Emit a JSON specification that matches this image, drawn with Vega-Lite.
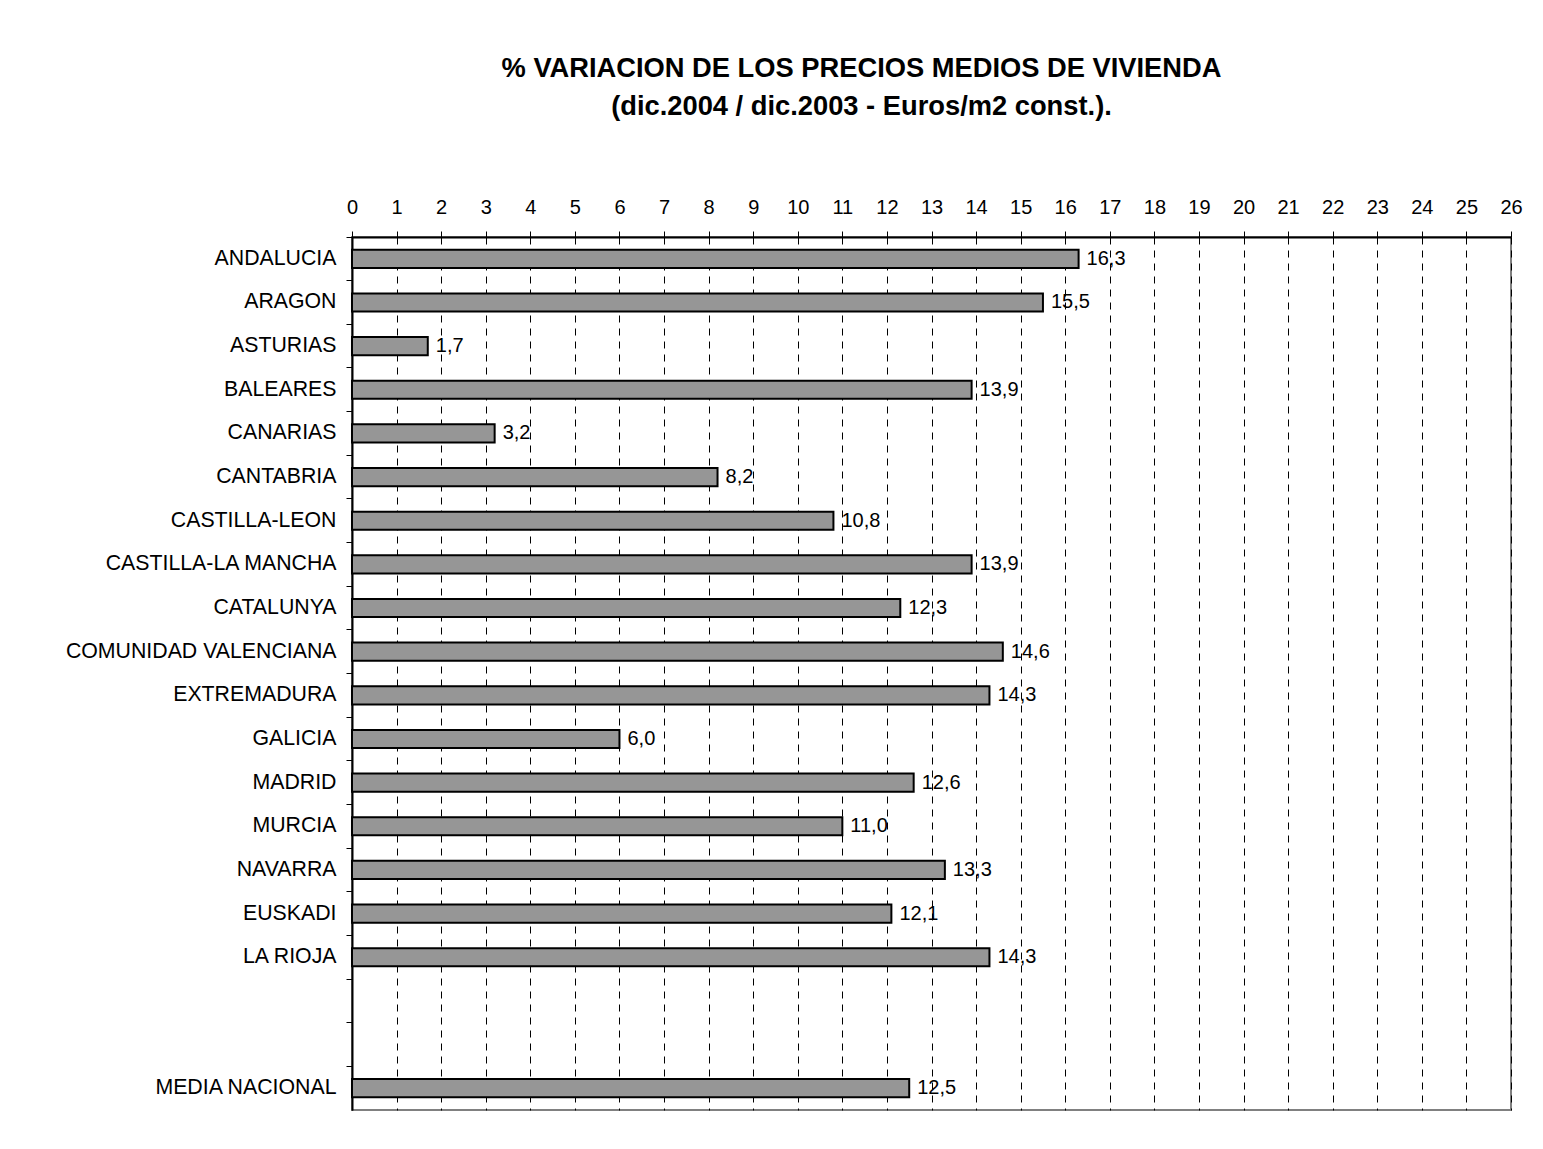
{
  "$schema": "https://vega.github.io/schema/vega-lite/v6.json",
  "width": 1159,
  "height": 873,
  "autosize": "none",
  "padding": {"left": 352, "top": 237, "right": 32, "bottom": 39},
  "background": "white",
  "title": {
    "text": ["% VARIACION DE LOS PRECIOS MEDIOS DE VIVIENDA", "(dic.2004 / dic.2003 - Euros/m2 const.)."],
    "font": "Liberation Sans",
    "fontSize": 27.3,
    "fontWeight": "bold",
    "color": "black",
    "lineHeight": 38,
    "anchor": "middle",
    "dx": -70,
    "offset": 77
  },
  "config": {
    "locale": {"number": {"decimal": ",", "thousands": ".", "grouping": [3], "currency": ["", " €"]}},
    "view": {"stroke": "#808080", "strokeWidth": 2},
    "font": "Liberation Sans"
  },
  "data": {
    "values": [
      {"region": "ANDALUCIA", "value": 16.3},
      {"region": "ARAGON", "value": 15.5},
      {"region": "ASTURIAS", "value": 1.7},
      {"region": "BALEARES", "value": 13.9},
      {"region": "CANARIAS", "value": 3.2},
      {"region": "CANTABRIA", "value": 8.2},
      {"region": "CASTILLA-LEON", "value": 10.8},
      {"region": "CASTILLA-LA MANCHA", "value": 13.9},
      {"region": "CATALUNYA", "value": 12.3},
      {"region": "COMUNIDAD VALENCIANA", "value": 14.6},
      {"region": "EXTREMADURA", "value": 14.3},
      {"region": "GALICIA", "value": 6.0},
      {"region": "MADRID", "value": 12.6},
      {"region": "MURCIA", "value": 11.0},
      {"region": "NAVARRA", "value": 13.3},
      {"region": "EUSKADI", "value": 12.1},
      {"region": "LA RIOJA", "value": 14.3},
      {"region": "MEDIA NACIONAL", "value": 12.5}
    ]
  },
  "encoding": {
    "y": {
      "field": "region",
      "type": "nominal",
      "title": null,
      "scale": {
        "domain": ["ANDALUCIA", "ARAGON", "ASTURIAS", "BALEARES", "CANARIAS", "CANTABRIA", "CASTILLA-LEON", "CASTILLA-LA MANCHA", "CATALUNYA", "COMUNIDAD VALENCIANA", "EXTREMADURA", "GALICIA", "MADRID", "MURCIA", "NAVARRA", "EUSKADI", "LA RIOJA", "blank1", "blank2", "MEDIA NACIONAL"],
        "paddingInner": 0.585,
        "paddingOuter": 0.2925
      },
      "axis": {
        "bandPosition": -0.7048,
        "tickSize": 6,
        "tickColor": "black",
        "domainColor": "black",
        "domainWidth": 2,
        "labelFontSize": 21.3,
        "labelColor": "black",
        "labelPadding": 10,
        "labelLimit": 500,
        "labelExpr": "indexof(datum.value, 'blank') == 0 ? '' : datum.value"
      }
    },
    "x": {
      "field": "value",
      "type": "quantitative",
      "title": null,
      "scale": {"domain": [0, 26], "nice": false},
      "axis": {
        "orient": "top",
        "values": [0,1,2,3,4,5,6,7,8,9,10,11,12,13,14,15,16,17,18,19,20,21,22,23,24,25,26],
        "format": "d",
        "grid": true,
        "gridColor": "black",
        "gridDash": [7, 6],
        "tickSize": 6,
        "tickColor": "black",
        "domainColor": "black",
        "domainWidth": 2,
        "labelFontSize": 20,
        "labelColor": "black",
        "labelPadding": 14,
        "labelFlush": false
      }
    }
  },
  "layer": [
    {
      "mark": {"type": "bar", "fill": "#969696", "stroke": "black", "strokeWidth": 2}
    },
    {
      "mark": {"type": "text", "align": "left", "baseline": "middle", "dx": 8, "fontSize": 20, "fill": "black"},
      "encoding": {
        "text": {"field": "value", "type": "quantitative", "format": ".1f"}
      }
    }
  ]
}
